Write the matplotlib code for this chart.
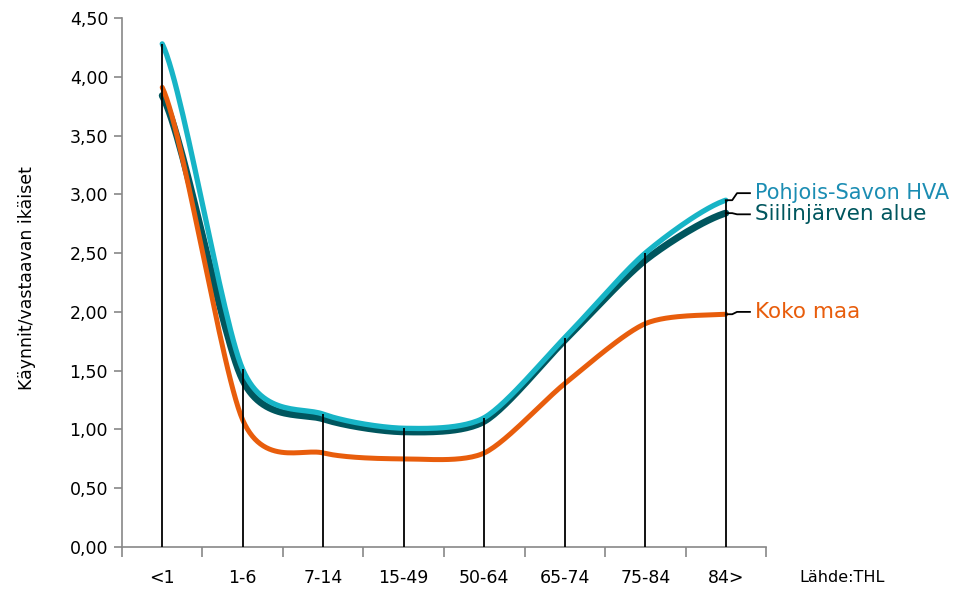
import numpy as np
import matplotlib
matplotlib.use("Agg")
from matplotlib import pyplot as plt

# data
ages = ["<1", "1-6", "7-14", "15-49", "50-64", "65-74", "75-84", "84>"]
pohjois_savo = [4.28, 1.51, 1.13, 1.01, 1.10, 1.78, 2.50, 2.95]
siilinjarvi = [3.84, 1.42, 1.09, 0.98, 1.07, 1.76, 2.44, 2.84]
koko_maa = [3.91, 1.08, 0.80, 0.75, 0.80, 1.39, 1.90, 1.98]

c_hva = "#17b4c6"
c_siil = "#00565e"
c_koko = "#e85d0c"
c_hva_txt = "#1b8db3"


# smooth line like excel (bezier through the points)
def smooth(xs, ys, k=0.13, n=30):
    xs = np.asarray(xs, float)
    ys = np.asarray(ys, float)
    px = np.concatenate([[2*xs[0]-xs[1]], xs, [2*xs[-1]-xs[-2]]])
    py = np.concatenate([[ys[0]], ys, [ys[-1]]])
    outx, outy = [], []
    for i in range(1, len(px)-2):
        p0 = np.array([px[i-1], py[i-1]])
        p1 = np.array([px[i], py[i]])
        p2 = np.array([px[i+1], py[i+1]])
        p3 = np.array([px[i+2], py[i+2]])
        c1 = p1 + (p2 - p0) * k
        c2 = p2 - (p3 - p1) * k
        t = np.linspace(0, 1, n)[:, None]
        b = (1-t)**3*p1 + 3*(1-t)**2*t*c1 + 3*(1-t)*t**2*c2 + t**3*p2
        outx.extend(b[:, 0])
        outy.extend(b[:, 1])
    return outx, outy


x = np.arange(len(ages))

fig = plt.figure(figsize=(9.65, 5.92), dpi=100)
ax = fig.add_axes([0.1264, 0.076, 0.6674, 0.8936])

sx, sy = smooth(x, siilinjarvi)
ax.plot(sx, sy, color=c_siil, lw=5, solid_capstyle="round", zorder=2)
sx, sy = smooth(x, pohjois_savo)
ax.plot(sx, sy, color=c_hva, lw=3.8, solid_capstyle="round", zorder=3)
sx, sy = smooth(x, koko_maa)
ax.plot(sx, sy, color=c_koko, lw=3.6, solid_capstyle="round", zorder=4)

# drop lines
tops = np.maximum.reduce([pohjois_savo, siilinjarvi, koko_maa])
ax.vlines(x, 0, tops, color="black", lw=1.3, zorder=5)

ax.set_xlim(-0.5, len(ages) - 0.5)
ax.set_ylim(0, 4.5)
ax.set_yticks(np.arange(0, 4.51, 0.5))
ax.set_yticklabels([f"{v:.2f}".replace(".", ",") for v in np.arange(0, 4.51, 0.5)], fontsize=12.5)
ax.set_xticks(x)
ax.set_xticklabels(ages, fontsize=12.5)
ax.set_xticks(np.arange(-0.5, len(ages), 1), minor=True)
ax.tick_params(axis="x", which="major", length=0, pad=16)
ax.tick_params(axis="x", which="minor", length=7, color="#888888", width=1.2)
ax.tick_params(axis="y", length=6, color="#888888", width=1.2, pad=4)
for s in ["top", "right"]:
    ax.spines[s].set_visible(False)
for s in ["left", "bottom"]:
    ax.spines[s].set_color("#888888")
    ax.spines[s].set_linewidth(1.2)

fig.text(0.019, 0.53, "Käynnit/vastaavan ikäiset", fontsize=12.5, rotation=90,
         ha="left", va="center")

# series labels with leaders
last = len(ages) - 1
labels = [
    ("Pohjois-Savon HVA", pohjois_savo[-1], 3.01, c_hva_txt, 15),
    ("Siilinjärven alue", siilinjarvi[-1], 2.83, c_siil, 15.5),
    ("Koko maa", koko_maa[-1], 2.00, c_koko, 15.5),
]
for txt, yv, ty, col, fs in labels:
    ax.plot([last, last + 0.08, last + 0.14, last + 0.3], [yv, yv, ty, ty],
            color="black", lw=1.3, clip_on=False, zorder=6)
    ax.text(last + 0.36, ty, txt, color=col, fontsize=fs, va="center",
            ha="left", clip_on=False)

fig.text(0.828, 0.012, "Lähde:THL", fontsize=11.5, ha="left", va="bottom")

fig.savefig("out.png", dpi=100)
